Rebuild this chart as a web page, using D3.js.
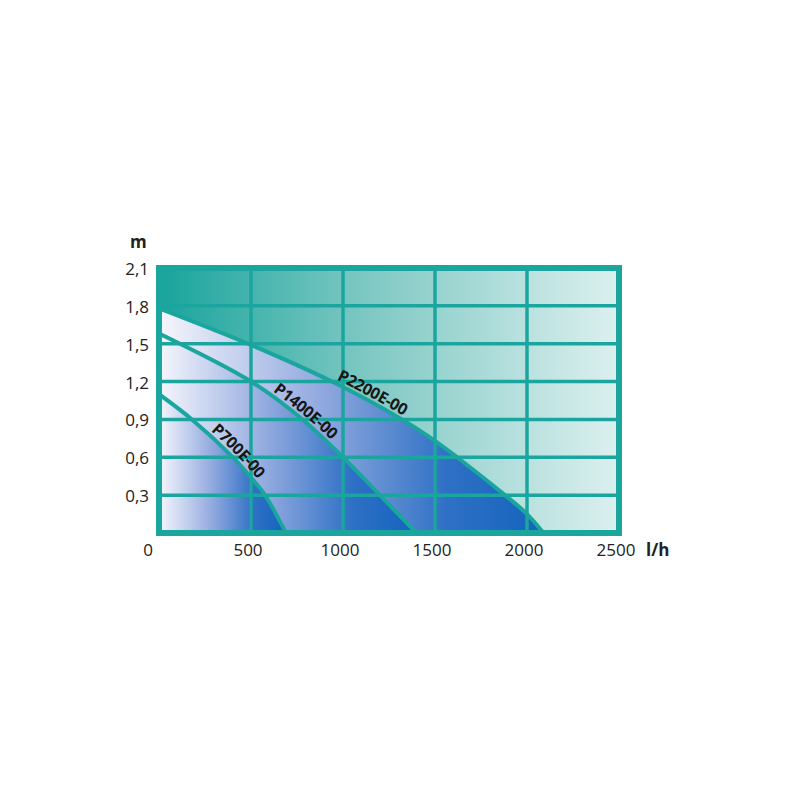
<!DOCTYPE html>
<html>
<head>
<meta charset="utf-8">
<script src="https://cdn.jsdelivr.net/npm/d3@7"></script>
<style>
  body { margin: 0; background: #fff; }
  svg { display: block; }
</style>
</head>
<body>
<div id="chart"></div>
<script>
// data
var xTicks = [0, 500, 1000, 1500, 2000, 2500];
var yTicks = [0.3, 0.6, 0.9, 1.2, 1.5, 1.8, 2.1];
var yTickLabels = ["0,3", "0,6", "0,9", "1,2", "1,5", "1,8", "2,1"];

var p2200 = [[0, 1.78], [500, 1.49], [940, 1.2], [1320, 0.9], [1500, 0.73], [1620, 0.6], [1880, 0.3], [2000, 0.15], [2090, 0]];
var p1400 = [[0, 1.58], [500, 1.2], [780, 0.9], [1000, 0.6], [1200, 0.3], [1400, 0]];
var p700 = [[0, 1.1], [179, 0.9], [402, 0.6], [500, 0.44], [576, 0.3], [690, 0]];

var pumps = [
  { name: "P2200E-00", pts: p2200, labelAt: 955 },
  { name: "P1400E-00", pts: p1400, labelAt: 605 },
  { name: "P700E-00", pts: p700, labelAt: 265 }
];

var svgWidth = 800, svgHeight = 800;
var teal = "#1aa69f";

var svg = d3.select("#chart").append("svg")
    .attr("width", svgWidth)
    .attr("height", svgHeight);

var x = d3.scaleLinear().domain([0, 2500]).range([159, 619]);
var y = d3.scaleLinear().domain([0, 2.1]).range([533, 268]);

var defs = svg.append("defs");

var bg = defs.append("linearGradient").attr("id", "bgGrad")
    .attr("x1", "0").attr("x2", "1").attr("y1", "0").attr("y2", "0");
bg.append("stop").attr("offset", "0").attr("stop-color", "#18a49c");
bg.append("stop").attr("offset", "0.45").attr("stop-color", "#7ec8c3");
bg.append("stop").attr("offset", "1").attr("stop-color", "#dcf0ef");

defs.append("clipPath").attr("id", "plotClip")
  .append("rect")
    .attr("x", x(0)).attr("y", y(2.1))
    .attr("width", x(2500) - x(0)).attr("height", y(0) - y(2.1));

pumps.forEach(function (p, i) {
    var end = p.pts[p.pts.length - 1][0];
    var g = defs.append("linearGradient").attr("id", "blue" + i)
        .attr("gradientUnits", "userSpaceOnUse")
        .attr("x1", x(0)).attr("x2", x(end)).attr("y1", 0).attr("y2", 0);
    g.append("stop").attr("offset", "0").attr("stop-color", "#f6f7fd");
    g.append("stop").attr("offset", "0.4").attr("stop-color", "#97ade0");
    g.append("stop").attr("offset", "0.75").attr("stop-color", "#2e70c5");
    g.append("stop").attr("offset", "1").attr("stop-color", "#1464be");
});

var plot = svg.append("g").attr("clip-path", "url(#plotClip)");

plot.append("rect")
    .attr("x", x(0)).attr("y", y(2.1))
    .attr("width", x(2500) - x(0)).attr("height", y(0) - y(2.1))
    .attr("fill", "url(#bgGrad)");

var area = d3.area()
    .x(function (d) { return x(d[0]); })
    .y0(y(0))
    .y1(function (d) { return y(d[1]); })
    .curve(d3.curveCatmullRom.alpha(0.5));

var line = d3.line()
    .x(function (d) { return x(d[0]); })
    .y(function (d) { return y(d[1]); })
    .curve(d3.curveCatmullRom.alpha(0.5));

pumps.forEach(function (p, i) {
    plot.append("path")
        .attr("d", area(p.pts))
        .attr("fill", "url(#blue" + i + ")");
});

// grid
plot.selectAll(".vgrid")
    .data(xTicks.slice(1, -1))
    .enter().append("line")
    .attr("x1", function (d) { return x(d); })
    .attr("x2", function (d) { return x(d); })
    .attr("y1", y(2.1)).attr("y2", y(0))
    .attr("stroke", teal).attr("stroke-width", 3.5);

plot.selectAll(".hgrid")
    .data(yTicks.slice(0, -1))
    .enter().append("line")
    .attr("x1", x(0)).attr("x2", x(2500))
    .attr("y1", function (d) { return y(d); })
    .attr("y2", function (d) { return y(d); })
    .attr("stroke", teal).attr("stroke-width", 3.5);

// curves
pumps.forEach(function (p, i) {
    plot.append("path")
        .attr("id", "curve" + i)
        .attr("d", line(p.pts))
        .attr("fill", "none")
        .attr("stroke", teal)
        .attr("stroke-width", 4);
});

// frame
svg.append("rect")
    .attr("x", x(0)).attr("y", y(2.1))
    .attr("width", x(2500) - x(0)).attr("height", y(0) - y(2.1))
    .attr("fill", "none")
    .attr("stroke", teal)
    .attr("stroke-width", 6);

// curve labels along the curves
pumps.forEach(function (p, i) {
    var node = d3.select("#curve" + i).node();
    var total = node.getTotalLength();
    var off = 0;
    for (var l = 0; l < total; l += 1) {
        if (node.getPointAtLength(l).x >= x(p.labelAt)) { off = l; break; }
    }
    svg.append("text")
        .attr("dy", -4)
        .style("font-family", "'Open Sans', sans-serif")
        .style("font-weight", "bold")
        .style("font-size", "16px")
        .style("letter-spacing", "-0.4px")
        .attr("fill", "#161616")
      .append("textPath")
        .attr("href", "#curve" + i)
        .attr("startOffset", off)
        .text(p.name);
});

// axis labels
var tickFont = "'Open Sans', sans-serif";

svg.selectAll(".ylab")
    .data(yTicks)
    .enter().append("text")
    .attr("x", 149)
    .attr("y", function (d) { return y(d) + 7; })
    .attr("text-anchor", "end")
    .style("font-family", tickFont)
    .style("font-size", "17px")
    .attr("fill", "#222")
    .text(function (d, i) { return yTickLabels[i]; });

svg.selectAll(".xlab")
    .data(xTicks)
    .enter().append("text")
    .attr("x", function (d) { return d === 0 ? 148 : x(d) - 3; })
    .attr("y", 556)
    .attr("text-anchor", "middle")
    .style("font-family", tickFont)
    .style("font-size", "17px")
    .attr("fill", "#222")
    .text(function (d) { return d; });

svg.append("text")
    .attr("x", 646).attr("y", 556)
    .style("font-family", tickFont)
    .style("font-weight", "bold")
    .style("font-size", "17px")
    .attr("fill", "#222")
    .text("l/h");

svg.append("text")
    .attr("x", 130).attr("y", 248)
    .style("font-family", tickFont)
    .style("font-weight", "bold")
    .style("font-size", "17px")
    .attr("fill", "#222")
    .text("m");
</script>
</body>
</html>
